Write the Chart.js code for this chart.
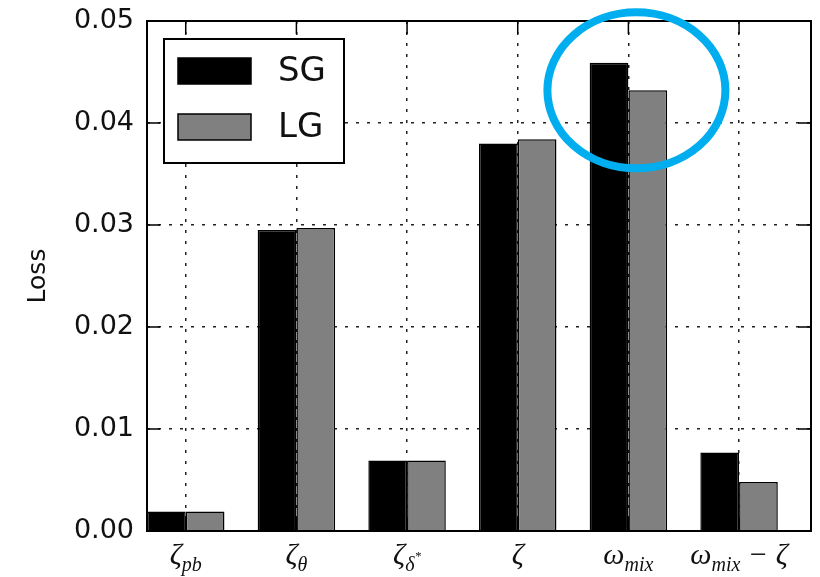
<!DOCTYPE html>
<html>
<head>
<meta charset="utf-8">
<script src="https://cdn.jsdelivr.net/npm/chart.js@4/dist/chart.umd.min.js"></script>
<style>
  body { margin: 0; background: #fff; }
</style>
</head>
<body>
<canvas id="chart" width="820" height="577"></canvas>
<script>
// categories written TeX-lite: _{...} subscript, ^ superscript
const categories = ['ζ_{pb}', 'ζ_{θ}', 'ζ_{δ^*}', 'ζ', 'ω_{mix}', 'ω_{mix} − ζ'];
const sgLoss = [0.0019, 0.0295, 0.0069, 0.0380, 0.0459, 0.0077];
const lgLoss = [0.0019, 0.0297, 0.0069, 0.0384, 0.0432, 0.0048];
const yTicks = [0, 0.01, 0.02, 0.03, 0.04, 0.05];
// blue ring drawn around the omega_mix pair
const highlight = { index: 4, value: 0.0432 };

function parseLabel(s) {
  const segs = [];
  const stack = [];
  let level = 0, buf = '';
  const flush = () => { if (buf) { segs.push({ text: buf, level: level }); buf = ''; } };
  for (let i = 0; i < s.length; i++) {
    const c = s[i];
    if (c === '_' || c === '^') {
      flush();
      stack.push(level);
      level = c === '_' ? 1 : 2;
      if (s[i + 1] === '{') i++;
      else { buf = s[++i]; flush(); level = stack.pop(); }
    } else if (c === '}') {
      flush();
      level = stack.pop();
    } else buf += c;
  }
  flush();
  return segs;
}

const levelStyle = [
  { size: 30, dy: 0 },
  { size: 20, dy: 7 },
  { size: 13, dy: -4 }
];

const decorations = {
  id: 'decorations',
  afterDraw(chart) {
    const ctx = chart.ctx;
    const a = chart.chartArea;
    const xs = chart.scales.x, ys = chart.scales.y;
    ctx.save();

    // inward ticks on all four sides
    ctx.strokeStyle = '#000';
    ctx.lineWidth = 1.5;
    ctx.beginPath();
    yTicks.forEach(v => {
      const y = ys.getPixelForValue(v);
      ctx.moveTo(a.left, y); ctx.lineTo(a.left + 13, y);
      ctx.moveTo(a.right, y); ctx.lineTo(a.right - 13, y);
    });
    categories.forEach((c, i) => {
      const x = xs.getPixelForValue(i);
      ctx.moveTo(x, a.top); ctx.lineTo(x, a.top + 13);
      ctx.moveTo(x, a.bottom); ctx.lineTo(x, a.bottom - 13);
    });
    ctx.stroke();

    // frame
    ctx.lineWidth = 2;
    ctx.strokeRect(a.left, a.top, a.right - a.left, a.bottom - a.top);

    // legend
    const lx = a.left + 17, ly = a.top + 18, lw = 180, lh = 124;
    ctx.fillStyle = '#fff';
    ctx.fillRect(lx, ly, lw, lh);
    ctx.strokeRect(lx, ly, lw, lh);
    chart.data.datasets.forEach((ds, k) => {
      const cy = ly + 32 + k * 56;
      ctx.fillStyle = ds.backgroundColor;
      ctx.fillRect(lx + 14, cy - 13, 73, 26);
      ctx.lineWidth = 1.5;
      ctx.strokeRect(lx + 14, cy - 13, 73, 26);
      ctx.fillStyle = '#111';
      ctx.font = '34px "DejaVu Sans"';
      ctx.textAlign = 'left';
      ctx.textBaseline = 'middle';
      ctx.fillText(ds.label, lx + 114, cy + 1);
    });

    // x tick labels with sub/superscripts
    ctx.fillStyle = '#111';
    ctx.textBaseline = 'alphabetic';
    ctx.textAlign = 'left';
    categories.forEach((c, i) => {
      const segs = parseLabel(c);
      let w = 0;
      segs.forEach(sg => {
        ctx.font = 'italic ' + levelStyle[sg.level].size + 'px "Liberation Serif"';
        sg.w = ctx.measureText(sg.text).width;
        w += sg.w;
      });
      let x = xs.getPixelForValue(i) - w / 2;
      const base = a.bottom + 33;
      segs.forEach(sg => {
        ctx.font = 'italic ' + levelStyle[sg.level].size + 'px "Liberation Serif"';
        ctx.fillText(sg.text, x, base + levelStyle[sg.level].dy);
        x += sg.w;
      });
    });

    // highlight ring
    ctx.strokeStyle = '#00aeef';
    ctx.lineWidth = 8;
    ctx.beginPath();
    ctx.ellipse(xs.getPixelForValue(highlight.index) + 8, ys.getPixelForValue(highlight.value), 89, 78, 0, 0, Math.PI * 2);
    ctx.stroke();

    ctx.restore();
  }
};

new Chart(document.getElementById('chart'), {
  type: 'bar',
  data: {
    datasets: [{
      label: 'SG',
      data: sgLoss.map((v, i) => ({ x: i, y: v })),
      backgroundColor: '#000000',
      borderColor: '#000000',
      borderWidth: 1.5
    }, {
      label: 'LG',
      data: lgLoss.map((v, i) => ({ x: i, y: v })),
      backgroundColor: '#808080',
      borderColor: '#000000',
      borderWidth: 1.5
    }]
  },
  options: {
    responsive: false,
    devicePixelRatio: 1,
    animation: false,
    layout: { padding: { top: 21, right: 9, left: 0, bottom: 0 } },
    datasets: { bar: { categoryPercentage: 0.7, barPercentage: 1.0 } },
    plugins: { legend: { display: false }, tooltip: { enabled: false } },
    scales: {
      x: {
        type: 'linear',
        min: -0.35,
        max: 5.65,
        offset: false,
        z: 1,
        afterBuildTicks: s => { s.ticks = categories.map((c, i) => ({ value: i })); },
        afterFit: s => { s.height = 46; s.paddingLeft = 0; s.paddingRight = 0; },
        ticks: { display: false },
        grid: { offset: false, color: '#222', lineWidth: 1.5, drawTicks: false },
        border: { display: false, dash: [3, 8] }
      },
      y: {
        min: 0,
        max: 0.05,
        z: 1,
        afterBuildTicks: s => { s.ticks = yTicks.map(v => ({ value: v })); },
        afterFit: s => { s.width = 147; s.paddingTop = 0; s.paddingBottom = 0; },
        ticks: {
          padding: 13,
          color: '#111',
          font: { family: 'DejaVu Sans', size: 27 },
          callback: v => v.toFixed(2)
        },
        grid: { color: '#222', lineWidth: 1.5, drawTicks: false },
        border: { display: false, dash: [3, 8] },
        title: {
          display: true,
          text: 'Loss',
          color: '#111',
          font: { family: 'DejaVu Sans', size: 25, lineHeight: 1 },
          padding: { top: 26, bottom: 0 }
        }
      }
    }
  },
  plugins: [decorations]
});
</script>
</body>
</html>
